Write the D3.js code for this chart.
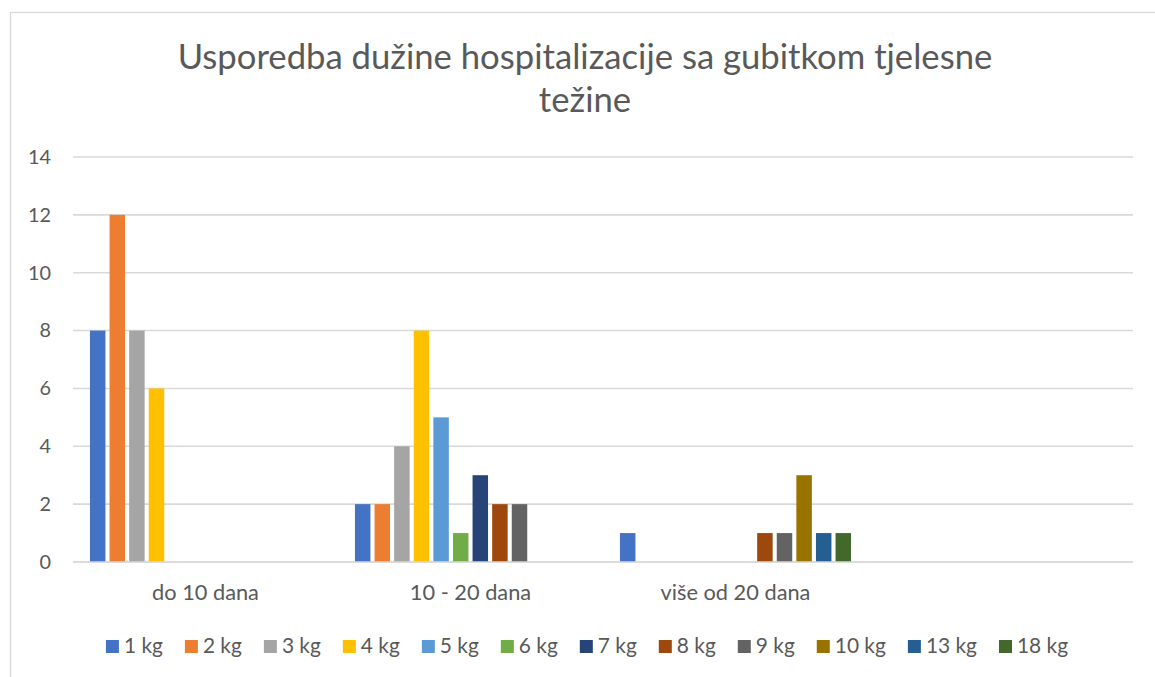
<!DOCTYPE html>
<html>
<head>
<meta charset="utf-8">
<script src="https://cdn.jsdelivr.net/npm/d3@7"></script>
<style>
  html, body { margin: 0; padding: 0; background: #fff; }
  svg { display: block; font-family: Lato, "Open Sans", sans-serif; }
</style>
</head>
<body>
<svg id="chart" width="1155" height="677"></svg>
<script>
// ---- data ----
const categories = ["do 10 dana", "10 - 20 dana", "više od 20 dana", ""];
const seriesNames = ["1 kg", "2 kg", "3 kg", "4 kg", "5 kg", "6 kg", "7 kg", "8 kg", "9 kg", "10 kg", "13 kg", "18 kg"];
const seriesColors = ["#4472C4", "#ED7D31", "#A5A5A5", "#FFC000", "#5B9BD5", "#70AD47", "#264478", "#9E480E", "#636363", "#997300", "#255E91", "#43682B"];
// values per series, one per category (null = no bar)
const s1kg  = [8, 2, 1, null];
const s2kg  = [12, 2, null, null];
const s3kg  = [8, 4, null, null];
const s4kg  = [6, 8, null, null];
const s5kg  = [null, 5, null, null];
const s6kg  = [null, 1, null, null];
const s7kg  = [null, 3, null, null];
const s8kg  = [null, 2, 1, null];
const s9kg  = [null, 2, 1, null];
const s10kg = [null, null, 3, null];
const s13kg = [null, null, 1, null];
const s18kg = [null, null, 1, null];
const seriesValues = [s1kg, s2kg, s3kg, s4kg, s5kg, s6kg, s7kg, s8kg, s9kg, s10kg, s13kg, s18kg];
const yTicks = [0, 2, 4, 6, 8, 10, 12, 14];
const titleLines = ["Usporedba dužine hospitalizacije sa gubitkom tjelesne", "težine"];

// ---- layout ----
const svg = d3.select("#chart");
const textColor = "#595959";
const gridColor = "#D9D9D9";
const plot = { left: 73, right: 1133, top: 157, bottom: 562 };

// helper: font size so that a string gets a target width
const measurer = svg.append("text").attr("font-size", 100).attr("visibility", "hidden");
function fitSize(str, targetW) {
  measurer.text(str);
  const w = measurer.node().getComputedTextLength();
  return 100 * targetW / w;
}

// chart border
svg.append("rect")
  .attr("x", 10.5).attr("y", 12.5)
  .attr("width", 1200).attr("height", 700)
  .attr("fill", "none").attr("stroke", gridColor).attr("stroke-width", 1.3);

// title
const titleSize = fitSize(titleLines[0], 815);
svg.append("g").selectAll("text").data(titleLines).join("text")
  .attr("x", 585).attr("y", (d, i) => 69 + i * 43)
  .attr("text-anchor", "middle")
  .attr("font-size", titleSize)
  .attr("fill", textColor)
  .text(d => d);

// scales
const x0 = d3.scaleBand().domain(categories).range([plot.left, plot.right]).paddingInner(0).paddingOuter(0);
const x1 = d3.scaleBand().domain(seriesNames).range([0, x0.bandwidth()]).paddingInner(0.21).paddingOuter(0.865);
const y = d3.scaleLinear().domain([0, 14]).range([plot.bottom, plot.top]);
const color = d3.scaleOrdinal().domain(seriesNames).range(seriesColors);

// gridlines
svg.append("g").selectAll("line").data(yTicks).join("line")
  .attr("x1", plot.left).attr("x2", plot.right)
  .attr("y1", d => y(d)).attr("y2", d => y(d))
  .attr("stroke", gridColor).attr("stroke-width", 1.6);

// y axis labels
const yAxis = d3.axisLeft(y).tickValues(yTicks).tickSize(0).tickPadding(0);
const yTickSize = fitSize("14", 23);
const yg = svg.append("g").attr("transform", `translate(51,0)`).call(yAxis);
yg.select(".domain").remove();
yg.selectAll("text").attr("font-size", yTickSize).attr("fill", textColor)
  .attr("font-family", "Lato, 'Open Sans', sans-serif").attr("x", 0);

// bars
const barData = [];
seriesNames.forEach((s, si) => {
  seriesValues[si].forEach((v, ci) => {
    if (v != null && v > 0) barData.push({ series: s, cat: categories[ci], value: v });
  });
});
svg.append("g").selectAll("rect").data(barData).join("rect")
  .attr("x", d => x0(d.cat) + x1(d.series))
  .attr("width", x1.bandwidth())
  .attr("y", d => y(d.value))
  .attr("height", d => y(0) - y(d.value))
  .attr("fill", d => color(d.series));

// redraw baseline over bars
svg.append("line")
  .attr("x1", plot.left).attr("x2", plot.right)
  .attr("y1", y(0)).attr("y2", y(0))
  .attr("stroke", gridColor).attr("stroke-width", 1.6);

// category axis labels
const catSize = fitSize("do 10 dana", 107);
const xAxis = d3.axisBottom(x0).tickSize(0).tickPadding(0);
const xg = svg.append("g").attr("transform", `translate(0,${plot.bottom})`).call(xAxis);
xg.select(".domain").remove();
xg.selectAll("text").attr("font-size", catSize).attr("fill", textColor)
  .attr("font-family", "Lato, 'Open Sans', sans-serif")
  .attr("dy", null).attr("y", 38);

// legend
const legSize = fitSize("1 kg", 39);
const sw = 13, swGap = 5, itemGap = 22;
const legend = svg.append("g");
const items = legend.selectAll("g").data(seriesNames).join("g");
items.append("rect").attr("width", sw).attr("height", sw).attr("y", 640).attr("fill", d => color(d));
items.append("text").attr("x", sw + swGap).attr("y", 653)
  .attr("font-size", legSize).attr("fill", textColor).text(d => d);
let cx = 0;
const offsets = [];
items.each(function () {
  offsets.push(cx);
  const tw = d3.select(this).select("text").node().getComputedTextLength();
  cx += sw + swGap + tw + itemGap;
});
const totalW = cx - itemGap;
const startX = 587 - totalW / 2;
items.attr("transform", (d, i) => `translate(${startX + offsets[i]},0)`);

measurer.remove();
</script>
</body>
</html>
